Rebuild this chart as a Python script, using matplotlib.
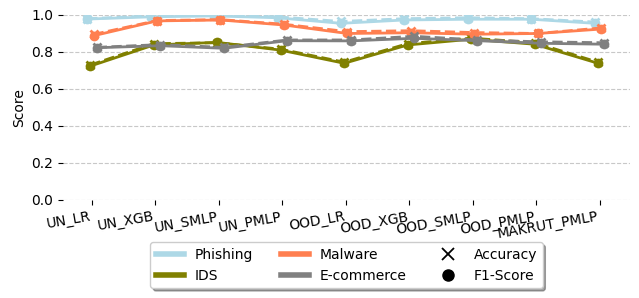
import matplotlib
matplotlib.use("Agg")
import matplotlib.pyplot as plt
from matplotlib.lines import Line2D
import numpy as np

models = ["UN_LR", "UN_XGB", "UN_SMLP", "UN_PMLP", "OOD_LR", "OOD_XGB", "OOD_SMLP", "OOD_PMLP", "MAKRUT_PMLP"]
datasets = ["Phishing", "IDS", "Malware", "E-commerce"]
colors = ["lightblue", "olive", "coral", "gray"]

phishing_f1 = [0.978, 0.990, 0.995, 0.985, 0.955, 0.973, 0.977, 0.977, 0.955]
phishing_acc = [0.980, 0.995, 1.000, 0.990, 0.965, 0.980, 0.985, 0.980, 0.962]
ids_f1 = [0.724, 0.838, 0.852, 0.810, 0.739, 0.838, 0.869, 0.842, 0.739]
ids_acc = [0.730, 0.845, 0.850, 0.815, 0.745, 0.845, 0.875, 0.850, 0.745]
malware_f1 = [0.888, 0.968, 0.973, 0.946, 0.900, 0.904, 0.896, 0.900, 0.924]
malware_acc = [0.895, 0.970, 0.975, 0.950, 0.910, 0.915, 0.905, 0.900, 0.930]
ecom_f1 = [0.823, 0.834, 0.820, 0.861, 0.860, 0.874, 0.861, 0.847, 0.842]
ecom_acc = [0.825, 0.840, 0.825, 0.865, 0.865, 0.885, 0.865, 0.855, 0.850]

f1_all = [phishing_f1, ids_f1, malware_f1, ecom_f1]
acc_all = [phishing_acc, ids_acc, malware_acc, ecom_acc]
offsets = [-0.075, -0.025, 0.025, 0.075]

fig = plt.figure(figsize=(6.39, 2.98), dpi=100)
ax = fig.add_axes([0.0986, 0.3289, 0.8873, 0.6208])

x = np.arange(len(models))
for name, col, f1, acc, off in zip(datasets, colors, f1_all, acc_all, offsets):
    ax.plot(x + off, acc, color=col, linestyle="--", marker="x", lw=2, ms=6, mew=2)
    ax.plot(x + off, f1, color=col, linestyle="-", marker="o", lw=2, ms=6)

ax.set_ylim(0, 1.0)
ax.set_xlim(-0.457, 8.479)
ax.set_xticks(x)
ax.set_xticklabels(models, rotation=10, ha="right")
ax.set_ylabel("Score")
ax.yaxis.grid(True, linestyle="--", color="#c8c8c8", lw=0.8)
ax.set_axisbelow(True)
for s in ax.spines.values():
    s.set_visible(False)

handles = [
    Line2D([], [], color="lightblue", lw=4, label="Phishing"),
    Line2D([], [], color="olive", lw=4, label="IDS"),
    Line2D([], [], color="coral", lw=4, label="Malware"),
    Line2D([], [], color="gray", lw=4, label="E-commerce"),
    Line2D([], [], color="black", marker="x", ls="none", ms=9, mew=1.3, label="Accuracy"),
    Line2D([], [], color="black", marker="o", ls="none", ms=8, label="F1-Score"),
]
ax.legend(handles=handles, loc="upper center", bbox_to_anchor=(0.5, -0.19), ncol=3,
          fancybox=True, shadow=True, fontsize=10)

fig.savefig("out.png", dpi=100)
